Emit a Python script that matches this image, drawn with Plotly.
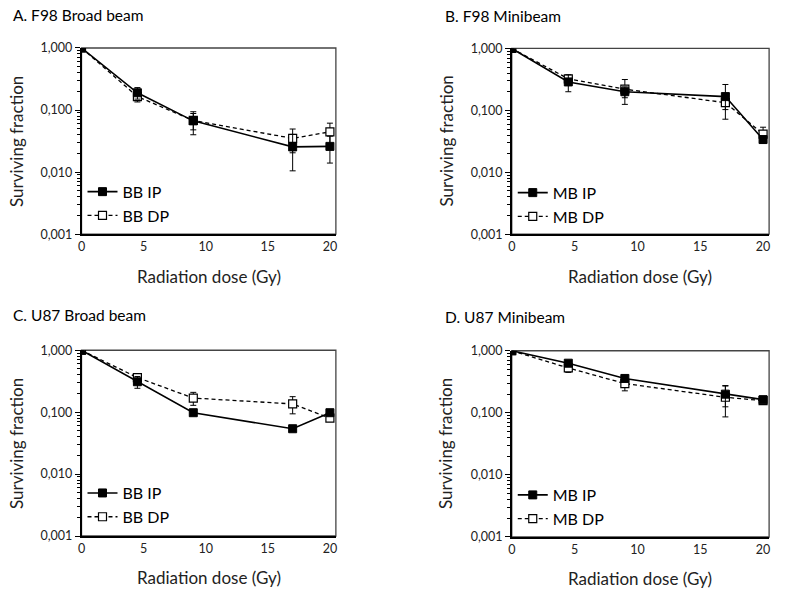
import plotly.graph_objects as go

# ---------------- data ----------------
doses = [0, 4.5, 9, 17, 20]

panel_titles = ["A. F98 Broad beam", "B. F98 Minibeam", "C. U87 Broad beam", "D. U87 Minibeam"]
ip_names = ["BB IP", "MB IP", "BB IP", "MB IP"]
dp_names = ["BB DP", "MB DP", "BB DP", "MB DP"]

a_ip = [1.0, 0.19, 0.067, 0.0255, 0.026]
a_ip_err = [0, 0.04, 0.027, 0.015, 0.012]
a_dp = [1.0, 0.165, 0.068, 0.035, 0.0445]
a_dp_err = [0, 0.03, 0.02, 0.0145, 0.017]

b_ip = [1.0, 0.288, 0.2, 0.167, 0.0338]
b_ip_err = [0, 0.088, 0.04, 0.095, 0.004]
b_dp = [1.0, 0.324, 0.22, 0.133, 0.0415]
b_dp_err = [0, 0.03, 0.095, 0.03, 0.012]

c_ip = [1.0, 0.31, 0.098, 0.054, 0.098]
c_ip_err = [0, 0.067, 0.005, 0.004, 0.005]
c_dp = [1.0, 0.362, 0.169, 0.136, 0.08]
c_dp_err = [0, 0.02, 0.04, 0.042, 0.005]

d_ip = [1.0, 0.63, 0.358, 0.2, 0.163]
d_ip_err = [0, 0.05, 0.03, 0.075, 0.01]
d_dp = [1.0, 0.528, 0.296, 0.178, 0.157]
d_dp_err = [0, 0.08, 0.07, 0.092, 0.01]

ip_series = [a_ip, b_ip, c_ip, d_ip]
ip_errs = [a_ip_err, b_ip_err, c_ip_err, d_ip_err]
dp_series = [a_dp, b_dp, c_dp, d_dp]
dp_errs = [a_dp_err, b_dp_err, c_dp_err, d_dp_err]

y_tickvals = [0.001, 0.01, 0.1, 1]
y_ticktext = ["0,001", "0,010", "0,100", "1,000"]
x_tickvals = [0, 5, 10, 15, 20]
x_title = "Radiation dose (Gy)"
y_title = "Surviving fraction"

# ---------------- layout geometry (pixels) ----------------
W, H = 788, 602
FONT = "Lato, 'Open Sans', sans-serif"
# (left, right, top, bottom) of each plot box
boxes = [(78, 334, 41, 232), (511, 770, 41.5, 232),
         (78, 334, 351, 541.5), (511, 770, 351.5, 542.5)]
title_pos = [(7, 7), (442, 8), (7, 315), (442, 317)]
legend_pos = [(79, 171), (512, 172), (79, 480), (512, 482)]

def px_x(v):
    return v / W

def px_y(v):
    return 1 - v / H

fig = go.Figure()
minor_vals = [m * 10 ** e for e in (-3, -2, -1) for m in range(2, 10)]
annotations = []
shapes = []

for i in range(4):
    sfx = "" if i == 0 else str(i + 1)
    xa, ya = "x" + sfx, "y" + sfx
    lg = "legend" + sfx
    l, r, t, b = boxes[i]

    fig.add_trace(go.Scatter(
        x=doses, y=dp_series[i], name=dp_names[i], mode="lines+markers",
        xaxis=xa, yaxis=ya, legend=lg, legendrank=2,
        line=dict(color="black", width=1.3, dash="4px,3px"),
        marker=dict(symbol="square", size=8, color="white",
                    line=dict(color="black", width=1.2)),
        error_y=dict(type="data", array=dp_errs[i], visible=True,
                     color="black", thickness=1, width=3),
    ))
    fig.add_trace(go.Scatter(
        x=doses, y=ip_series[i], name=ip_names[i], mode="lines+markers",
        xaxis=xa, yaxis=ya, legend=lg, legendrank=1,
        line=dict(color="black", width=1.6),
        marker=dict(symbol="square", size=8, color="black",
                    line=dict(color="black", width=1)),
        error_y=dict(type="data", array=ip_errs[i], visible=True,
                     color="black", thickness=1, width=3),
    ))

    xkey = "xaxis" + sfx
    ykey = "yaxis" + sfx
    fig.update_layout(**{
        xkey: dict(domain=[px_x(l), px_x(r)], range=[0, 20.48], anchor=ya,
                   tickvals=x_tickvals, showgrid=False, zeroline=False,
                   showline=True, linecolor="black", linewidth=1.5,
                   ticks="", tickfont=dict(family=FONT, size=12.5, color="#222")),
        ykey: dict(domain=[px_y(b), px_y(t)], type="log", range=[-3, 0], anchor=xa,
                   tickvals=y_tickvals, ticktext=y_ticktext, showgrid=False,
                   zeroline=False, showline=True, linecolor="black", linewidth=1.5,
                   ticks="outside", ticklen=5, tickcolor="black", tickwidth=1,
                   minor=dict(tickvals=minor_vals, ticks="outside", ticklen=3,
                              tickcolor="black", tickwidth=1),
                   tickfont=dict(family=FONT, size=12.5, color="#222")),
        lg: dict(x=px_x(legend_pos[i][0]), y=px_y(legend_pos[i][1]),
                 xanchor="left", yanchor="top", bgcolor="rgba(0,0,0,0)",
                 font=dict(family=FONT, size=16, color="black"),
                 tracegroupgap=0, itemwidth=30),
    })

    # frame (top/right border)
    shapes.append(dict(type="rect", xref=xa + " domain", yref=ya + " domain",
                       x0=0, x1=1, y0=0, y1=1, layer="below",
                       line=dict(color="#444", width=1.3)))

    # panel title
    tx, ty = title_pos[i]
    annotations.append(dict(text=panel_titles[i], xref="paper", yref="paper",
                            x=px_x(tx), y=px_y(ty), xanchor="left", yanchor="middle",
                            showarrow=False, font=dict(family=FONT, size=15.5, color="black")))
    # x axis title
    annotations.append(dict(text=x_title, xref="paper", yref="paper",
                            x=px_x((l + r) / 2), y=px_y(b + 43), xanchor="center",
                            yanchor="middle", showarrow=False,
                            font=dict(family=FONT, size=17, color="#222")))
    # y axis title
    annotations.append(dict(text=y_title, xref="paper", yref="paper",
                            x=px_x(l - 66), y=px_y((t + b) / 2), xanchor="center",
                            yanchor="middle", textangle=-90, showarrow=False,
                            font=dict(family=FONT, size=17, color="#222")))

fig.update_layout(width=W, height=H, margin=dict(l=0, r=0, t=0, b=0),
                  paper_bgcolor="white", plot_bgcolor="white",
                  annotations=annotations, shapes=shapes)

fig.write_html("out.html", config={"displayModeBar": False},
               post_script="document.body.style.margin='0';"
                           "document.body.style.overflow='hidden';")
